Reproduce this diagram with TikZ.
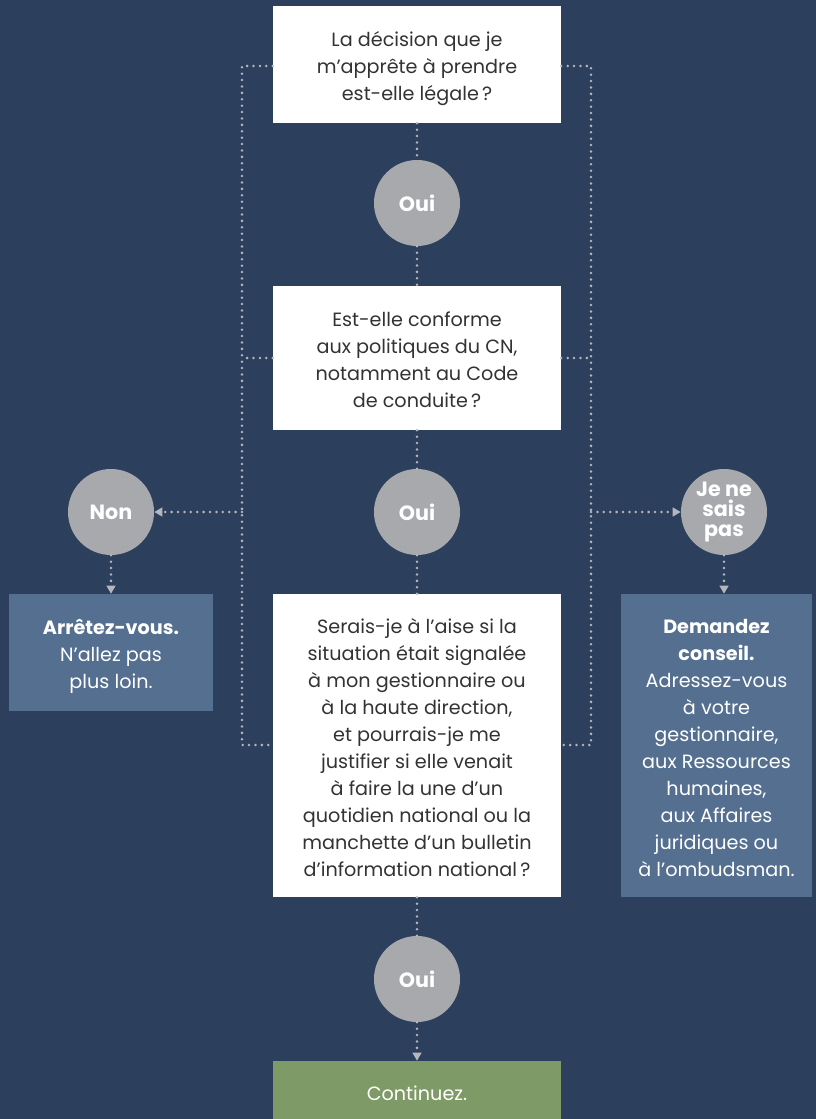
\documentclass[tikz,border=0pt]{standalone}
\usepackage{fontspec}
\setmainfont{Poppins}
\usetikzlibrary{arrows.meta}
\definecolor{bg}{HTML}{2C3F5D}
\definecolor{circ}{HTML}{A7A9AC}
\definecolor{bluebox}{HTML}{546F8F}
\definecolor{greenbox}{HTML}{7E9A67}
\definecolor{txt}{HTML}{333333}
\definecolor{dots}{HTML}{B4B7BD}
\newcommand{\qlines}[1]{\raisebox{0pt}[\dimexpr\height+6pt\relax][\depth]{\begin{tabular}{@{}c@{}}#1\end{tabular}}}
\tikzset{
  qbox/.style={fill=white, text=txt, minimum width=288*0.75pt, inner sep=0pt, font=\fontsize{14.4}{20.25}\selectfont},
  circnode/.style={circle, fill=circ, text=white, minimum size=86*0.75pt, inner sep=0pt, align=center, font=\bfseries\fontsize{15.5}{15}\selectfont},
  sidebox/.style={fill=bluebox, text=white, inner sep=0pt, font=\fontsize{14.4}{20.25}\selectfont},
  dotline/.style={draw=dots, line width=2.1pt, line cap=round, dash pattern=on 0pt off 4.8pt},
  arr/.style={-{Triangle[length=6pt,width=6.5pt]}}
}
\begin{document}
\begin{tikzpicture}[x=0.75pt,y=-0.75pt]
\fill[bg] (0,0) rectangle (816,1119);
\useasboundingbox (0,0) rectangle (816,1119);
% question boxes
\node[qbox, minimum height=117*0.75pt] (q1) at (417,64.5) {\qlines{La décision que je\\m’apprête à prendre\\est-elle légale\,?}};
\node[qbox, minimum height=144*0.75pt] (q2) at (417,358) {\qlines{Est-elle conforme\\aux politiques du CN,\\notamment au Code\\de conduite\,?}};
\node[qbox, minimum height=303*0.75pt] (q3) at (417,745.5) {\qlines{Serais-je à l’aise si la\\situation était signalée\\à mon gestionnaire ou\\à la haute direction,\\et pourrais-je me\\justifier si elle venait\\à faire la une d’un\\quotidien national ou la\\manchette d’un bulletin\\d’information national\,?}};
\node[fill=greenbox, text=white, minimum width=288*0.75pt, minimum height=60*0.75pt, inner sep=0pt, font=\fontsize{14.4}{20.25}\selectfont] (cont) at (417,1091) {\qlines{Continuez.}};
% circles
\node[circnode] (oui1) at (417,203) {Oui};
\node[circnode] (oui2) at (417,512) {Oui};
\node[circnode] (oui3) at (417,979) {Oui};
\node[circnode] (non) at (111,512) {Non};
\node[circnode] (jns) at (724,512) {Je ne\\sais\\pas};
% side boxes
\node[sidebox, minimum width=204*0.75pt, minimum height=117*0.75pt] (stop) at (111,652.5) {\qlines{{\bfseries Arrêtez-vous.}\\N’allez pas\\plus loin.}};
\node[sidebox, minimum width=191*0.75pt, minimum height=303*0.75pt] (ask) at (716.5,745.5) {\qlines{{\bfseries Demandez}\\{\bfseries conseil.}\\Adressez-vous\\à votre\\gestionnaire,\\aux Ressources\\humaines,\\aux Affaires\\juridiques ou\\à l’ombudsman.}};
% frame coordinates
\coordinate (lt) at (242,66);
\coordinate (lb) at (242,745);
\coordinate (lm) at (242,512);
\coordinate (rt) at (591,66);
\coordinate (rb) at (591,745);
\coordinate (rm) at (591,512);
% dotted connectors
\draw[dotline] (q1) -- (oui1);
\draw[dotline] (oui1) -- (q2);
\draw[dotline] (q2) -- (oui2);
\draw[dotline] (oui2) -- (q3);
\draw[dotline] (q3) -- (oui3);
\draw[dotline, arr] (oui3) -- (cont);
\draw[dotline] (q1.west |- lt) -- (lt) -- (lb) -- (q3.west |- lb);
\draw[dotline] (q2.west |- 242,358) -- (242,358);
\draw[dotline] (q1.east |- rt) -- (rt) -- (rb) -- (q3.east |- rb);
\draw[dotline] (q2.east |- 591,358) -- (591,358);
\draw[dotline, arr] (lm) -- (non);
\draw[dotline, arr] (rm) -- (jns);
\draw[dotline, arr] (non) -- (stop);
\draw[dotline, arr] (jns) -- (jns |- ask.north);
\end{tikzpicture}
\end{document}
